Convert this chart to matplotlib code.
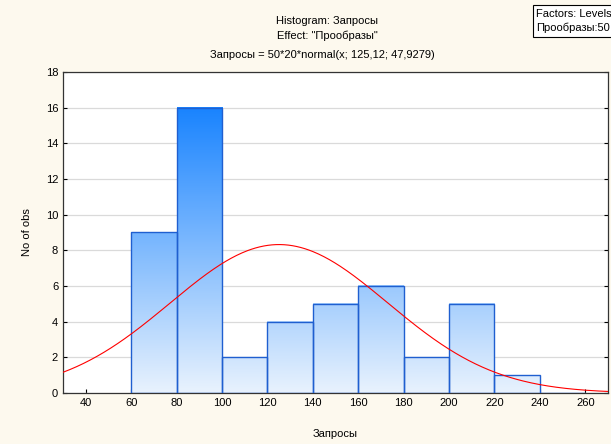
import numpy as np
import matplotlib.pyplot as plt
from matplotlib.colors import LinearSegmentedColormap, Normalize

plt.rcParams['font.family'] = ['Liberation Sans', 'DejaVu Sans']
plt.rcParams['font.size'] = 8

# Гистограмма: границы интервалов и частоты
bin_edges = [60, 80, 100, 120, 140, 160, 180, 200, 220, 240, 260]
counts = [9, 16, 2, 4, 5, 6, 2, 5, 1, 0]

# Параметры нормальной кривой
n_obs = 50
bin_width = 20
mu = 125.12
sigma = 47.9279

x_ticks = [40, 60, 80, 100, 120, 140, 160, 180, 200, 220, 240, 260]
y_ticks = [0, 2, 4, 6, 8, 10, 12, 14, 16, 18]

bg = '#fdf9ee'
fig = plt.figure(figsize=(6.11, 4.44), dpi=100, facecolor=bg)
ax = fig.add_axes([63 / 611, 1 - 393 / 444, 545 / 611, 321 / 444])
ax.set_facecolor('white')

cmap = LinearSegmentedColormap.from_list('bars', ['#e8f2fd', '#1a84ff'])
norm = Normalize(0, 16)

for i, h in enumerate(counts):
    x0, x1 = bin_edges[i], bin_edges[i + 1]
    if h > 0:
        grad = np.linspace(0, h, 100).reshape(-1, 1)
        ax.imshow(grad, extent=[x0, x1, 0, h], origin='lower', aspect='auto',
                  cmap=cmap, norm=norm, zorder=2, interpolation='bilinear')
    ax.bar(x0, h, width=x1 - x0, align='edge', facecolor='none',
           edgecolor='#1f5fd0', linewidth=1.0, zorder=3)

# Нормальная кривая: 50*20*normal(x; mu; sigma)
xs = np.linspace(30, 270, 400)
ys = n_obs * bin_width * np.exp(-0.5 * ((xs - mu) / sigma) ** 2) / (sigma * np.sqrt(2 * np.pi))
ax.plot(xs, ys, color='red', linewidth=0.8, zorder=4)

ax.set_xlim(30, 270)
ax.set_ylim(0, 18)
ax.set_xticks(x_ticks)
ax.set_yticks(y_ticks)
ax.yaxis.grid(True, color='#dadada', linewidth=0.9, zorder=0)
ax.set_axisbelow(True)
ax.tick_params(direction='in', length=3, right=True, top=False, colors='black')
for s in ax.spines.values():
    s.set_color('#333333')
    s.set_linewidth(0.9)

ax.set_xlabel('Запросы', labelpad=15)
ax.set_ylabel('No of obs', labelpad=10)

fig.text(0.535, 1 - 21 / 444, 'Histogram: Запросы', ha='center', va='center')
fig.text(0.535, 1 - 36 / 444, 'Effect: "Прообразы"', ha='center', va='center')
fig.text(0.527, 1 - 55 / 444, 'Запросы = 50*20*normal(x; 125,12; 47,9279)', ha='center', va='center')

fig.text(536 / 611, 1 - 21 / 444, 'Factors: Levels\nПрообразы:50', ha='left', va='center',
         linespacing=1.5,
         bbox=dict(boxstyle='square,pad=0.3', facecolor='white', edgecolor='black', linewidth=0.8))

fig.savefig('out.png', dpi=100, facecolor=bg)
